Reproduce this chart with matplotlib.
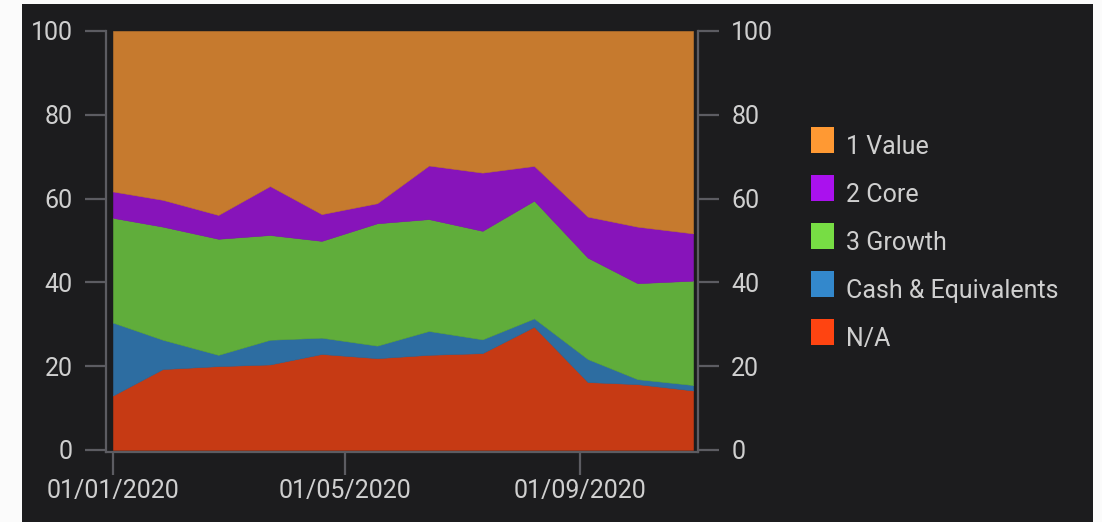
import matplotlib
matplotlib.use("Agg")
import matplotlib.pyplot as plt
import matplotlib.dates as mdates
from matplotlib.patches import Rectangle
from matplotlib.colors import to_rgb
import numpy as np
import pandas as pd

# Holdings mix by style box (percent of portfolio)
dates = ["2020-01-01", "2020-01-27", "2020-02-25", "2020-03-23", "2020-04-19", "2020-05-18",
         "2020-06-14", "2020-07-12", "2020-08-08", "2020-09-05", "2020-10-01", "2020-10-30"]
na_vals = [13.0, 19.3, 20.0, 20.4, 22.9, 21.9, 22.7, 23.1, 29.4, 16.2, 15.7, 14.2]
cash_vals = [17.4, 7.0, 2.7, 5.9, 3.9, 3.0, 5.7, 3.3, 2.0, 5.5, 1.2, 1.3]
growth_vals = [25.0, 27.0, 27.7, 25.0, 23.1, 29.2, 26.7, 25.9, 28.1, 24.2, 22.9, 24.9]
core_vals = [6.3, 6.4, 5.7, 11.7, 6.4, 4.8, 12.8, 13.9, 8.3, 9.8, 13.5, 11.3]
value_vals = [38.3, 40.3, 43.9, 37.0, 43.7, 41.1, 32.1, 33.8, 32.2, 44.3, 46.7, 48.3]

series_names = ["1 Value", "2 Core", "3 Growth", "Cash & Equivalents", "N/A"]
series_colors = ["#ff9933", "#aa11ee", "#77dd44", "#3388cc", "#ff4411"]
tick_dates = ["2020-01-01", "2020-05-01", "2020-09-01"]
y_ticks = [0, 20, 40, 60, 80, 100]

BG = "#1c1c1e"
AXIS = "#5c5c62"
TEXT = "#cfcfcf"
W, H = 1102, 522

plt.rcParams["font.family"] = ["Roboto", "DejaVu Sans"]

fig = plt.figure(figsize=(W / 100, H / 100), dpi=100, facecolor="#fbfbfb")
fig.add_artist(Rectangle((22 / W, 0), (1093 - 22) / W, 518 / H,
                         transform=fig.transFigure, facecolor=BG, edgecolor="none", zorder=0))

ax = fig.add_axes([106 / W, (H - 452) / H, (698 - 106) / W, (452 - 31) / H])
ax.set_facecolor("none")

x = mdates.date2num(pd.to_datetime(dates))
stack_vals = [na_vals, cash_vals, growth_vals, core_vals, value_vals]
bg_rgb = np.array(to_rgb(BG))


def faded(c, a=0.75):
    return tuple(a * np.array(to_rgb(c)) + (1 - a) * bg_rgb)


fill_colors = [faded(c) for c in series_colors[::-1]]
polys = ax.stackplot(x, *stack_vals, colors=fill_colors, linewidth=0.4)
for p, c in zip(polys, fill_colors):
    p.set_edgecolor(c)

ppd = 580 / (x[-1] - x[0])
ax.set_xlim(x[0] - 7 / ppd, x[-1] + 5 / ppd)
ax.set_ylim(-0.5, 100)

for side in ("left", "right", "bottom"):
    ax.spines[side].set_color(AXIS)
    ax.spines[side].set_linewidth(1.6)
ax.spines["top"].set_visible(False)
ax.spines["left"].set_bounds(-0.5, 100)
ax.spines["right"].set_bounds(-0.5, 100)

ax.set_yticks(y_ticks)
ax.set_yticklabels([str(v) for v in y_ticks])
ax.tick_params(axis="y", left=True, right=True, labelleft=True, labelright=True,
               length=15, width=1.6, color=AXIS, labelcolor=TEXT, labelsize=18, pad=9)
ax.set_xticks(mdates.date2num(pd.to_datetime(tick_dates)))
ax.xaxis.set_major_formatter(mdates.DateFormatter("%d/%m/%Y"))
ax.tick_params(axis="x", length=16.5, width=1.6, color=AXIS, labelcolor=TEXT,
               labelsize=18, pad=3)

# legend drawn in figure pixel space
row_bottoms = [153, 201, 249, 297, 345]
for name, col, yb in zip(series_names, series_colors, row_bottoms):
    fig.add_artist(Rectangle((811 / W, (H - yb) / H), 23 / W, 26 / H,
                             transform=fig.transFigure, facecolor=col,
                             edgecolor="none", zorder=3))
    fig.text(846 / W, (H - yb - 1) / H, name, color=TEXT, fontsize=18,
             ha="left", va="baseline", zorder=3)

fig.savefig("out.png", dpi=100, facecolor=fig.get_facecolor())
